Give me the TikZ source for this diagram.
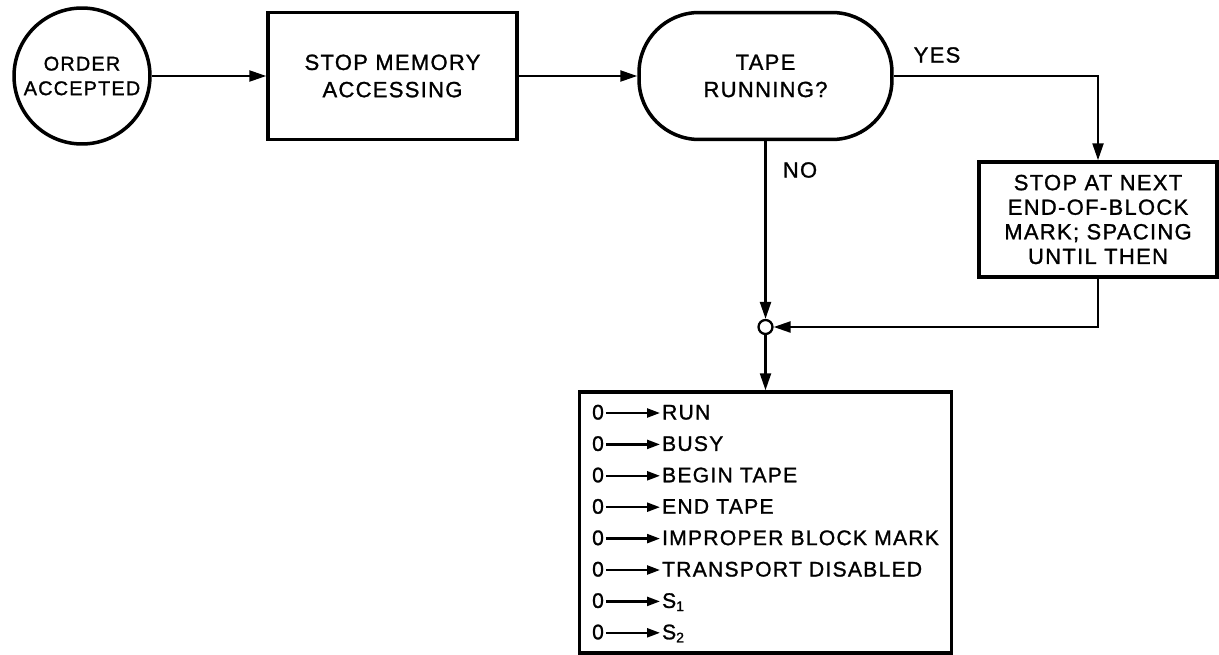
\documentclass[tikz,border=0pt]{standalone}
\usepackage{fontspec}
\setmainfont[LetterSpace=6,FakeBold=1.2]{Liberation Sans}
\usetikzlibrary{arrows.meta}

\begin{document}
\begin{tikzpicture}[x=0.02cm,y=-0.02cm,>={Triangle[length=3.4mm,width=2.2mm]},
  font=\fontsize{12.5}{15.5}\selectfont,
  blk/.style={draw,line width=2pt,align=center,inner sep=2pt},
  flow/.style={line width=1.3pt},
  item/.style={inner sep=1pt,text height=1.7ex,text depth=0.3ex,font=\fontsize{12}{14}\selectfont}]
  \useasboundingbox (0,0) rectangle (1219,655);
  \node[blk,circle,minimum size=2.72cm,font=\fontsize{11.3}{14}\selectfont] (order) at (82,76) {ORDER\\ACCEPTED};
  \node[blk,minimum width=4.98cm,minimum height=2.54cm] (stopmem) at (392.5,76) {STOP MEMORY\\ACCESSING};
  \node[blk,rounded corners=1.2cm,minimum width=5.06cm,minimum height=2.54cm] (tape) at (765.5,76) {TAPE\\RUNNING?};
  \node[blk,minimum width=4.76cm,minimum height=2.3cm,font=\fontsize{12.5}{14}\selectfont] (eob) at (1098,219.5) {STOP AT NEXT\\END-OF-BLOCK\\MARK; SPACING\\UNTIL THEN};
  \node[draw,circle,line width=1.3pt,fill=white,minimum size=0.28cm,inner sep=0pt] (jn) at (765.5,327) {};
  \node[blk,minimum width=7.44cm,minimum height=5.22cm] (outbox) at (765.5,522.5) {};
  \node (yes) at (937,55) {YES};
  \node (no) at (800,170) {NO};
  \draw[flow,->] (order) -- (stopmem);
  \draw[flow,->] (stopmem) -- (tape);
  \draw[flow,->] (tape) -| (eob);
  \draw[flow,->] (tape) -- (jn);
  \draw[flow,->] (eob) |- (jn);
  \draw[flow,->] (jn) -- (outbox);
  \foreach \lbl [count=\i] in {RUN,BUSY,BEGIN TAPE,END TAPE,IMPROPER BLOCK MARK,TRANSPORT DISABLED,S\textsubscript{1},S\textsubscript{2}}
  {
    \node[item] (z\i) at (598,413+31.4*\i-31.4) {0};
    \node[item,anchor=west] (t\i) at (660,413+31.4*\i-31.4) {\lbl};
    \draw[flow,-{Triangle[length=2.6mm,width=1.8mm]}] (z\i) -- (t\i);
  }
\end{tikzpicture}
\end{document}
